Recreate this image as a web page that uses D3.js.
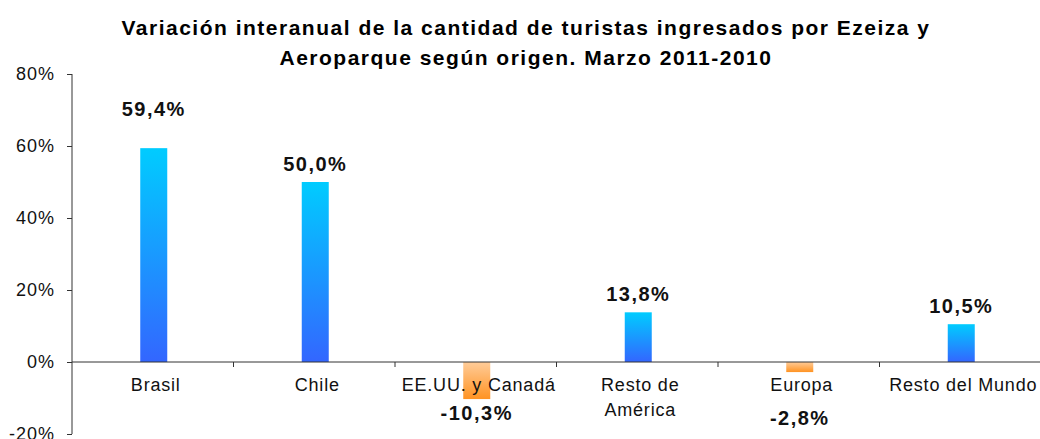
<!DOCTYPE html>
<html>
<head>
<meta charset="utf-8">
<script src="https://cdn.jsdelivr.net/npm/d3@7"></script>
<style>
  body { margin: 0; background: #fff; }
  svg { display: block; font-family: "Liberation Sans", Arial, sans-serif; }
</style>
</head>
<body>
<div id="chart"></div>
<script>
const categories = ["Brasil", "Chile", "EE.UU. y Canadá", "Resto de\nAmérica", "Europa", "Resto del Mundo"];
const values = [59.4, 50.0, -10.3, 13.8, -2.8, 10.5];
const yTicks = [-20, 0, 20, 40, 60, 80];
const titleLines = [
  "Variación interanual de la cantidad de turistas ingresados por Ezeiza y",
  "Aeroparque según origen. Marzo 2011-2010"
];

const width = 1040, height = 439;
const MARGIN = { TOP: 74, BOTTOM: 5, LEFT: 72, RIGHT: -1 };

const svg = d3.select("#chart").append("svg")
  .attr("width", width)
  .attr("height", height);

// gradients
const defs = svg.append("defs");
const blue = defs.append("linearGradient").attr("id", "gBlue")
  .attr("x1", 0).attr("y1", 0).attr("x2", 0).attr("y2", 1);
blue.append("stop").attr("offset", "0%").attr("stop-color", "#00ccff");
blue.append("stop").attr("offset", "100%").attr("stop-color", "#3366ff");
const orange = defs.append("linearGradient").attr("id", "gOrange")
  .attr("x1", 0).attr("y1", 0).attr("x2", 0).attr("y2", 1);
orange.append("stop").attr("offset", "0%").attr("stop-color", "#ffcc99");
orange.append("stop").attr("offset", "100%").attr("stop-color", "#ff9322");

const x = d3.scaleBand()
  .domain(categories)
  .range([MARGIN.LEFT, width - MARGIN.RIGHT])
  .paddingInner(0).paddingOuter(0);

const y = d3.scaleLinear()
  .domain([-20, 80])
  .range([height - MARGIN.BOTTOM, MARGIN.TOP]);

const barW = 27;

// title
svg.append("g").selectAll("text")
  .data(titleLines)
  .enter().append("text")
  .attr("x", 526)
  .attr("y", (d, i) => 35 + i * 30)
  .attr("text-anchor", "middle")
  .style("font-size", "21px")
  .style("letter-spacing", "1.5px")
  .style("font-weight", "bold")
  .text(d => d);

// bars
svg.append("g").selectAll("rect")
  .data(values)
  .enter().append("rect")
  .attr("x", (d, i) => x(categories[i]) + x.bandwidth() / 2 - barW / 2 + 1)
  .attr("width", barW)
  .attr("y", d => y(Math.max(0, d)))
  .attr("height", d => Math.abs(y(d) - y(0)))
  .attr("fill", d => d >= 0 ? "url(#gBlue)" : "url(#gOrange)");

// y axis
const yAxis = svg.append("g")
  .attr("transform", "translate(" + MARGIN.LEFT + ",0)")
  .call(d3.axisLeft(y).tickValues(yTicks).tickSize(5).tickPadding(12).tickFormat(d => d + "%"));
yAxis.select(".domain").attr("stroke", "#333").attr("d", "M0," + y(-20) + "V" + y(80));
yAxis.selectAll(".tick line").attr("stroke", "#333");
yAxis.selectAll("text")
  .style("font-size", "18px")
  .style("letter-spacing", "1px")
  .attr("fill", "#111");

// x axis at zero
const xAxis = svg.append("g")
  .attr("transform", "translate(0," + y(0) + ")");
xAxis.append("line")
  .attr("x1", MARGIN.LEFT).attr("x2", width)
  .attr("stroke", "#333");
xAxis.selectAll(".sep")
  .data(categories.slice(1))
  .enter().append("line")
  .attr("x1", d => x(d)).attr("x2", d => x(d))
  .attr("y1", 0).attr("y2", 5)
  .attr("stroke", "#333");
const catLabels = xAxis.selectAll(".cat")
  .data(categories)
  .enter().append("text")
  .attr("text-anchor", "middle")
  .attr("x", d => x(d) + x.bandwidth() / 2)
  .attr("y", 29)
  .style("font-size", "18px")
  .style("letter-spacing", "0.8px")
  .attr("fill", "#111");
catLabels.each(function (d) {
  const lines = d.split("\n");
  d3.select(this).selectAll("tspan")
    .data(lines)
    .enter().append("tspan")
    .attr("x", x(d) + x.bandwidth() / 2 + 3)
    .attr("dy", (l, i) => i === 0 ? 0 : 25)
    .text(l => l);
});

// value labels
const fmt = v => (v < 0 ? "-" : "") + d3.format(".1f")(Math.abs(v)).replace(".", ",") + "%";
svg.append("g").selectAll("text")
  .data(values)
  .enter().append("text")
  .attr("text-anchor", "middle")
  .attr("x", (d, i) => x(categories[i]) + x.bandwidth() / 2 + 1)
  .attr("y", (d, i) => {
    if (d < 0) return i === 2 ? 420 : 425;
    if (i === 0) return 116;
    return y(d) - 11;
  })
  .style("font-size", "20px")
  .style("letter-spacing", "1.5px")
  .style("font-weight", "bold")
  .attr("fill", "#111")
  .text(d => fmt(d));
</script>
</body>
</html>
